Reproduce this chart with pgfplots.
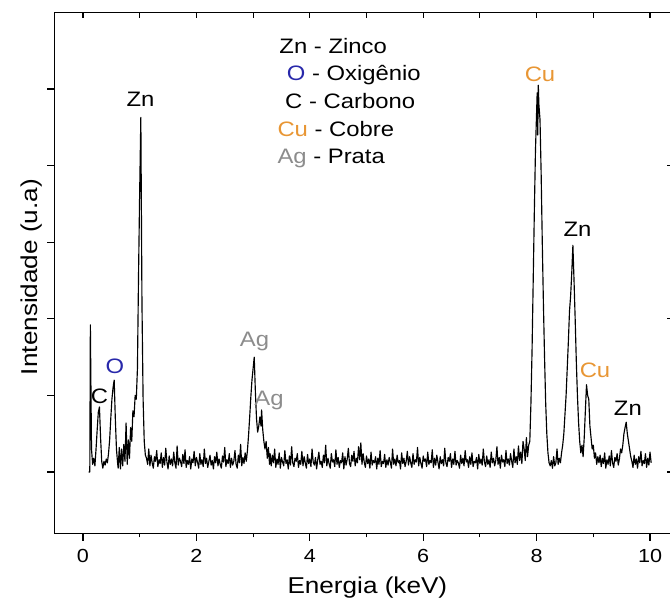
\documentclass[border=0pt]{standalone}
\usepackage{fontspec}
\setmainfont{Liberation Sans}[FakeStretch=1.14]
\usepackage{pgfplots}
\pgfplotsset{compat=1.18}
\definecolor{cuorange}{RGB}{232,150,52}
\definecolor{oblue}{RGB}{40,40,170}
\definecolor{aggray}{RGB}{140,140,140}
\begin{document}
\begin{tikzpicture}
\begin{axis}[
  x=56.7bp, y=76.6bp,
  xmin=-0.5, xmax=10.4, ymin=-0.8, ymax=6,
  axis line style={line width=1.4bp},
  xtick={0,2,...,10}, minor xtick={1,3,...,9},
  ytick={0,1,2,3,4,5}, yticklabels={},
  xtick pos=lower, ytick pos=left, tick align=outside,
  major tick length=7.5bp, minor tick length=4bp,
  every tick/.style={line width=1.1bp, black},
  /pgf/number format/assume math mode=true,
  tick label style={font=\fontsize{19}{22}\selectfont},
  xticklabel style={anchor=base, yshift=-22bp},
  xlabel={Energia (keV)}, ylabel={Intensidade (u.a)},
  label style={font=\fontsize{23}{27}\selectfont},
  xlabel style={at={(axis description cs:0.506,-0.1154)}, anchor=base},
  ylabel style={at={(axis description cs:-0.038,0.492)}, anchor=center, rotate=0},
]
\addplot[black, line width=1.15bp, line join=round] coordinates {
(0.10,0.00)(0.12,0.00)(0.13,1.92)(0.15,0.30)(0.17,0.10)(0.19,0.18)(0.21,0.08)(0.23,0.30)(0.25,0.55)(0.27,0.78)(0.29,0.85)(0.31,0.45)(0.33,0.14)
(0.35,0.05)(0.37,0.14)(0.39,0.09)(0.41,0.17)(0.43,0.12)(0.45,0.24)(0.47,0.42)(0.49,0.70)(0.51,0.95)(0.53,1.10)(0.55,1.20)(0.57,0.70)(0.59,0.30)
(0.61,0.12)(0.62,0.05)(0.64,0.32)(0.66,0.04)(0.68,0.30)(0.70,0.08)(0.72,0.36)(0.74,0.14)(0.76,0.64)(0.78,0.10)(0.80,0.42)(0.82,0.18)(0.84,0.58)
(0.86,0.40)(0.88,0.80)(0.90,0.72)(0.92,1.00)(0.94,0.95)(0.96,1.35)(0.98,2.60)(1.00,3.68)(1.02,4.63)(1.03,3.40)(1.04,2.20)(1.06,0.95)(1.08,0.40)(1.10,0.22)
(1.12,0.18)(1.14,0.10)(1.16,0.30)(1.18,0.08)(1.20,0.22)(1.22,0.12)(1.24,0.05)(1.26,0.20)(1.28,0.14)(1.30,0.28)(1.32,0.07)(1.34,0.16)(1.36,0.11)
(1.38,0.25)(1.40,0.06)(1.42,0.19)(1.44,0.09)(1.46,0.31)(1.48,0.13)(1.50,0.04)(1.52,0.21)(1.54,0.10)(1.56,0.17)(1.58,0.08)(1.60,0.26)(1.62,0.12)
(1.64,0.05)(1.66,0.34)(1.68,0.09)(1.70,0.18)(1.72,0.14)(1.74,0.07)(1.76,0.23)(1.78,0.11)(1.80,0.29)(1.82,0.06)(1.84,0.15)(1.86,0.10)(1.88,0.20)
(1.90,0.04)(1.92,0.17)(1.94,0.12)(1.96,0.27)(1.98,0.08)(2.00,0.19)(2.02,0.13)(2.04,0.05)(2.06,0.24)(2.08,0.10)(2.10,0.16)(2.12,0.07)(2.14,0.30)
(2.16,0.11)(2.18,0.18)(2.20,0.06)(2.22,0.14)(2.24,0.22)(2.26,0.09)(2.28,0.15)(2.30,0.04)(2.32,0.20)(2.34,0.12)(2.36,0.26)(2.38,0.08)(2.40,0.17)
(2.42,0.10)(2.44,0.05)(2.46,0.21)(2.48,0.13)(2.50,0.32)(2.52,0.07)(2.54,0.16)(2.56,0.11)(2.58,0.24)(2.60,0.06)(2.62,0.18)(2.64,0.09)(2.66,0.14)
(2.68,0.28)(2.70,0.10)(2.72,0.05)(2.74,0.22)(2.76,0.12)(2.78,0.36)(2.80,0.08)(2.82,0.19)(2.84,0.11)(2.86,0.25)
(2.88,0.14)(2.90,0.28)(2.92,0.48)(2.94,0.72)(2.96,0.98)(2.98,1.20)(3.00,1.35)(3.02,1.50)(3.04,1.05)(3.06,0.70)(3.08,0.52)(3.10,0.60)(3.12,0.72)
(3.14,0.60)(3.15,0.81)(3.17,0.55)(3.19,0.40)(3.21,0.30)(3.23,0.40)(3.25,0.18)(3.27,0.32)(3.29,0.10)(3.30,0.24)
(3.32,0.08)(3.34,0.22)(3.36,0.12)(3.38,0.30)(3.40,0.06)(3.42,0.17)(3.44,0.10)(3.46,0.25)(3.48,0.05)(3.50,0.19)(3.52,0.13)(3.54,0.08)(3.56,0.28)
(3.58,0.11)(3.60,0.16)(3.62,0.04)(3.64,0.21)(3.66,0.09)(3.68,0.33)(3.70,0.12)(3.72,0.07)(3.74,0.18)(3.76,0.14)(3.78,0.24)(3.80,0.06)(3.82,0.15)
(3.84,0.10)(3.86,0.27)(3.88,0.08)(3.90,0.20)(3.92,0.12)(3.94,0.05)(3.96,0.23)(3.98,0.11)(4.00,0.17)(4.02,0.07)(4.04,0.30)(4.06,0.13)(4.08,0.09)
(4.10,0.19)(4.12,0.04)(4.14,0.16)(4.16,0.26)(4.18,0.10)(4.20,0.14)(4.22,0.06)(4.24,0.22)(4.26,0.12)(4.28,0.35)(4.30,0.08)(4.32,0.18)(4.34,0.11)
(4.36,0.05)(4.38,0.24)(4.40,0.13)(4.42,0.16)(4.44,0.07)(4.46,0.29)(4.48,0.10)(4.50,0.19)(4.52,0.06)(4.54,0.15)(4.56,0.12)(4.58,0.25)(4.60,0.04)
(4.62,0.20)(4.64,0.09)(4.66,0.17)(4.68,0.31)(4.70,0.11)(4.72,0.07)(4.74,0.22)(4.76,0.14)(4.78,0.27)(4.80,0.08)(4.82,0.18)(4.84,0.12)(4.86,0.33)
(4.88,0.16)(4.90,0.38)(4.92,0.10)(4.94,0.24)(4.96,0.13)(4.98,0.06)(5.00,0.21)(5.02,0.11)(5.04,0.17)(5.06,0.05)(5.08,0.26)(5.10,0.09)(5.12,0.15)
(5.14,0.12)(5.16,0.20)(5.18,0.04)(5.20,0.18)(5.22,0.10)(5.24,0.28)(5.26,0.07)(5.28,0.14)(5.30,0.11)(5.32,0.23)(5.34,0.06)(5.36,0.16)(5.38,0.09)
(5.40,0.19)(5.42,0.13)(5.44,0.05)(5.46,0.30)(5.48,0.10)(5.50,0.17)(5.52,0.08)(5.54,0.22)(5.56,0.12)(5.58,0.15)(5.60,0.04)(5.62,0.25)(5.64,0.11)
(5.66,0.18)(5.68,0.07)(5.70,0.14)(5.72,0.27)(5.74,0.09)(5.76,0.20)(5.78,0.12)(5.80,0.06)(5.82,0.24)(5.84,0.10)(5.86,0.16)(5.88,0.13)(5.90,0.32)
(5.92,0.08)(5.94,0.19)(5.96,0.11)(5.98,0.05)(6.00,0.21)(6.02,0.14)(6.04,0.17)(6.06,0.07)(6.08,0.26)(6.10,0.10)(6.12,0.15)(6.14,0.12)(6.16,0.29)
(6.18,0.06)(6.20,0.18)(6.22,0.09)(6.24,0.22)(6.26,0.13)(6.28,0.04)(6.30,0.20)(6.32,0.11)(6.34,0.16)(6.36,0.08)(6.38,0.31)(6.40,0.12)(6.42,0.07)
(6.44,0.19)(6.46,0.14)(6.48,0.24)(6.50,0.06)(6.52,0.17)(6.54,0.10)(6.56,0.27)(6.58,0.09)(6.60,0.15)(6.62,0.12)(6.64,0.05)(6.66,0.22)(6.68,0.11)
(6.70,0.18)(6.72,0.08)(6.74,0.28)(6.76,0.13)(6.78,0.16)(6.80,0.06)(6.82,0.20)(6.84,0.10)(6.86,0.25)(6.88,0.07)(6.90,0.14)(6.92,0.12)(6.94,0.19)
(6.96,0.04)(6.98,0.23)(7.00,0.11)(7.02,0.17)(7.04,0.09)(7.06,0.30)(7.08,0.13)(7.10,0.07)(7.12,0.21)(7.14,0.10)(7.16,0.16)(7.18,0.06)(7.20,0.26)
(7.22,0.12)(7.24,0.18)(7.26,0.08)(7.28,0.15)(7.30,0.33)(7.32,0.10)(7.34,0.19)(7.36,0.05)(7.38,0.22)(7.40,0.13)(7.42,0.16)(7.44,0.07)(7.46,0.28)
(7.48,0.11)(7.50,0.17)(7.52,0.09)(7.54,0.24)(7.56,0.14)(7.58,0.06)(7.60,0.30)(7.62,0.12)(7.64,0.20)(7.66,0.10)(7.68,0.34)(7.70,0.15)(7.72,0.26)
(7.74,0.11)(7.76,0.40)
(7.78,0.30)(7.80,0.15)(7.82,0.45)(7.84,0.20)(7.86,0.35)(7.88,0.40)(7.90,0.90)(7.92,1.60)(7.94,2.50)(7.96,3.40)(7.98,4.20)(8.00,4.70)(8.01,4.95)
(8.02,4.40)(8.03,5.05)(8.04,4.80)(8.06,4.60)(8.08,3.90)(8.10,3.00)(8.12,2.20)(8.14,1.50)(8.16,0.90)(8.18,0.50)(8.20,0.25)(8.22,0.12)(8.24,0.08)
(8.26,0.15)(8.28,0.05)(8.30,0.20)(8.32,0.08)(8.34,0.12)(8.36,0.30)(8.38,0.10)(8.40,0.18)(8.42,0.12)(8.44,0.25)(8.46,0.35)(8.48,0.50)(8.50,0.75)
(8.52,1.00)(8.54,1.35)(8.56,1.70)(8.58,2.10)(8.60,2.30)(8.62,2.60)(8.64,2.96)(8.66,2.50)(8.68,2.00)(8.70,1.45)(8.72,1.00)(8.74,0.65)(8.76,0.40)
(8.78,0.25)(8.80,0.35)(8.82,0.20)(8.84,0.45)(8.86,0.80)(8.88,1.14)(8.90,1.00)(8.92,0.95)(8.94,0.60)(8.96,0.45)(8.98,0.30)(9.00,0.35)(9.02,0.18)
(9.04,0.25)(9.06,0.10)(9.08,0.20)(9.10,0.12)
(9.12,0.22)(9.14,0.07)(9.16,0.18)(9.18,0.11)(9.20,0.25)(9.22,0.05)(9.24,0.16)(9.26,0.10)(9.28,0.21)(9.30,0.08)(9.32,0.28)(9.34,0.12)(9.36,0.06)
(9.38,0.19)(9.40,0.14)(9.42,0.24)(9.44,0.09)(9.46,0.17)(9.48,0.30)
(9.50,0.25)(9.52,0.35)(9.54,0.50)(9.56,0.58)(9.58,0.65)(9.60,0.50)(9.62,0.40)(9.64,0.30)(9.66,0.20)
(9.68,0.14)(9.70,0.06)(9.72,0.22)(9.74,0.10)(9.76,0.17)(9.78,0.05)(9.80,0.20)(9.82,0.12)(9.84,0.27)(9.86,0.08)(9.88,0.15)(9.90,0.11)(9.92,0.24)
(9.94,0.06)(9.96,0.18)(9.98,0.09)(10.00,0.26)(10.02,0.12)
};
% peak labels
\node[font=\fontsize{21}{25}\selectfont, anchor=base] at (axis cs:1.014,4.765) {Zn};
\node[font=\fontsize{21}{25}\selectfont, anchor=base, text=oblue] at (axis cs:0.564,1.292) {O};
\node[font=\fontsize{21}{25}\selectfont, anchor=base] at (axis cs:0.291,0.90) {C};
\node[font=\fontsize{21}{25}\selectfont, anchor=base, text=aggray] at (axis cs:3.025,1.632) {Ag};
\node[font=\fontsize{21}{25}\selectfont, anchor=base, text=aggray] at (axis cs:3.28,0.862) {Ag};
\node[font=\fontsize{21}{25}\selectfont, anchor=base, text=cuorange] at (axis cs:8.06,5.104) {Cu};
\node[font=\fontsize{21}{25}\selectfont, anchor=base] at (axis cs:8.72,3.068) {Zn};
\node[font=\fontsize{21}{25}\selectfont, anchor=base, text=cuorange] at (axis cs:9.03,1.24) {Cu};
\node[font=\fontsize{21}{25}\selectfont, anchor=base] at (axis cs:9.61,0.744) {Zn};
% legend text
\node[font=\fontsize{21}{25}\selectfont, anchor=base west, inner sep=0pt] at (axis cs:3.462,5.466) {Zn - Zinco};
\node[font=\fontsize{21}{25}\selectfont, anchor=base west, inner sep=0pt] at (axis cs:3.592,5.117) {\textcolor{oblue}{O} - Oxigênio};
\node[font=\fontsize{21}{25}\selectfont, anchor=base west, inner sep=0pt] at (axis cs:3.563,4.748) {C - Carbono};
\node[font=\fontsize{21}{25}\selectfont, anchor=base west, inner sep=0pt] at (axis cs:3.427,4.377) {\textcolor{cuorange}{Cu} - Cobre};
\node[font=\fontsize{21}{25}\selectfont, anchor=base west, inner sep=0pt] at (axis cs:3.427,4.030) {\textcolor{aggray}{Ag} - Prata};
\coordinate (bbSW) at (axis cs:-1.4638,-1.6449);
\coordinate (bbNE) at (axis cs:10.3527,6.1619);
\end{axis}
\begin{axis}[
  x=56.7bp, y=76.6bp,
  xmin=-0.5, xmax=10.4, ymin=-0.8, ymax=6,
  axis x line*=top, axis y line*=right,
  axis line style={line width=1.4bp},
  xtick={0,1,...,10}, ytick={0,2,4},
  xticklabels={}, yticklabels={},
  tick align=inside, major tick length=6bp,
  every tick/.style={line width=1.1bp, black},
]
\addplot[draw=none] coordinates {(0,0)};
\end{axis}
\pgfresetboundingbox
\useasboundingbox (bbSW) rectangle (bbNE);
\end{tikzpicture}
\end{document}
